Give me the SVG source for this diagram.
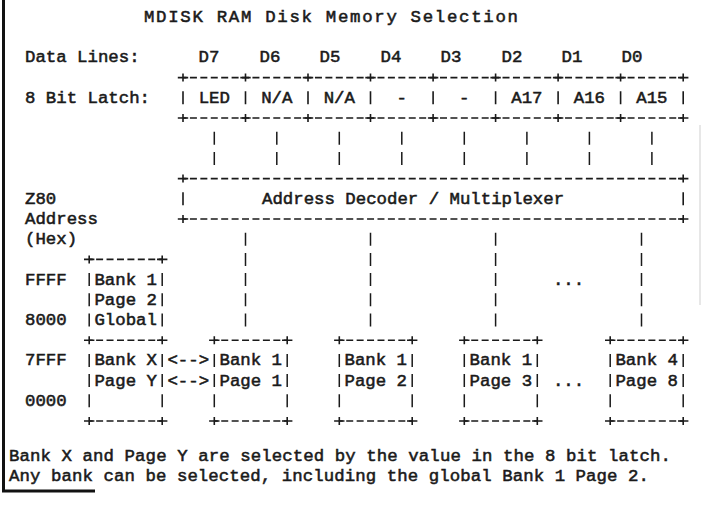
<svg xmlns="http://www.w3.org/2000/svg" width="702" height="510" viewBox="0 0 702 510">
<style>
text { font-family: "Liberation Mono", "Courier New", monospace; font-size: 17.36px; font-weight: normal; fill: #1a1a1a; stroke: #1a1a1a; stroke-width: 0.55; }
.c { text-anchor: middle; }
.h { fill: none; stroke: #1a1a1a; stroke-width: 1.6; stroke-dasharray: 7 3.42; stroke-dashoffset: 3.5; }
.p { fill: none; stroke: #1a1a1a; stroke-width: 1.6; }
.v { fill: none; stroke: #1a1a1a; stroke-width: 1.5; stroke-dasharray: 13 7.2; }
.frame { fill: none; stroke: #111; stroke-width: 3; }
</style>
<rect width="702" height="510" fill="#fff"/>
<g id="frame">
  <path class="frame" d="M3.5 0 V491 H95"/>
  <path d="M700 125 V305" fill="none" stroke="#cfcfcf" stroke-width="1"/>
</g>
<g id="title"><text x="144" y="22" textLength="374" lengthAdjust="spacing">MDISK RAM Disk Memory Selection</text></g>
<g id="labels">
  <text x="25" y="62.4">Data Lines:</text>
  <text x="25" y="102.8">8 Bit Latch:</text>
  <text x="25" y="203.8">Z80</text>
  <text x="25" y="224">Address</text>
  <text x="25" y="244.2">(Hex)</text>
  <text x="25" y="284.6">FFFF</text>
  <text x="25" y="325">8000</text>
  <text x="25" y="365.4">7FFF</text>
  <text x="25" y="405.8">0000</text>
</g>
<g id="data-lines">
  <text class="c" x="209" y="62.4">D7</text>
  <text class="c" x="270" y="62.4">D6</text>
  <text class="c" x="330" y="62.4">D5</text>
  <text class="c" x="391" y="62.4">D4</text>
  <text class="c" x="451" y="62.4">D3</text>
  <text class="c" x="512" y="62.4">D2</text>
  <text class="c" x="572" y="62.4">D1</text>
  <text class="c" x="632" y="62.4">D0</text>
</g>
<g id="latch">
  <path class="h" d="M183 77.6 H683.2 M183 118 H683.2"/>
  <path class="p" d="M177.8 77.6 H188.2 M183 73.6 V81.6 M240.3 77.6 H250.7 M245.5 73.6 V81.6 M302.8 77.6 H313.2 M308 73.6 V81.6 M365.3 77.6 H375.7 M370.5 73.6 V81.6 M427.9 77.6 H438.3 M433.1 73.6 V81.6 M490.4 77.6 H500.8 M495.6 73.6 V81.6 M552.9 77.6 H563.3 M558.1 73.6 V81.6 M615.4 77.6 H625.8 M620.6 73.6 V81.6 M678 77.6 H688.4 M683.2 73.6 V81.6"/>
  <path class="p" d="M177.8 118 H188.2 M183 114 V122 M240.3 118 H250.7 M245.5 114 V122 M302.8 118 H313.2 M308 114 V122 M365.3 118 H375.7 M370.5 114 V122 M427.9 118 H438.3 M433.1 114 V122 M490.4 118 H500.8 M495.6 114 V122 M552.9 118 H563.3 M558.1 114 V122 M615.4 118 H625.8 M620.6 114 V122 M678 118 H688.4 M683.2 114 V122"/>
  <path class="p" d="M183 91.3 V104.3 M245.5 91.3 V104.3 M308 91.3 V104.3 M370.5 91.3 V104.3 M433.1 91.3 V104.3 M495.6 91.3 V104.3 M558.1 91.3 V104.3 M620.6 91.3 V104.3 M683.2 91.3 V104.3"/>
  <text class="c" x="214.3" y="102.8">LED</text>
  <text class="c" x="276.8" y="102.8">N/A</text>
  <text class="c" x="339.3" y="102.8">N/A</text>
  <text class="c" x="401.8" y="102.8">-</text>
  <text class="c" x="464.3" y="102.8">-</text>
  <text class="c" x="526.9" y="102.8">A17</text>
  <text class="c" x="589.4" y="102.8">A16</text>
  <text class="c" x="651.9" y="102.8">A15</text>
</g>
<g id="decoder">
  <path class="h" d="M183 178.6 H683.2 M183 219 H683.2"/>
  <path class="p" d="M177.8 178.6 H188.2 M183 174.6 V182.6 M678 178.6 H688.4 M683.2 174.6 V182.6 M177.8 219 H188.2 M183 215 V223 M678 219 H688.4 M683.2 215 V223"/>
  <path class="p" d="M183 192.3 V205.3 M683.2 192.3 V205.3"/>
  <text x="262" y="203.8">Address Decoder / Multiplexer</text>
</g>
<g id="global-bank">
  <path class="h" d="M89.2 259.4 H162.2 M89.2 340.2 H162.2"/>
  <path class="p" d="M84 259.4 H94.4 M89.2 255.4 V263.4 M157 259.4 H167.4 M162.2 255.4 V263.4 M84 340.2 H94.4 M89.2 336.2 V344.2 M157 340.2 H167.4 M162.2 336.2 V344.2"/>
  <path class="v" d="M89.2 273.1 V326.5 M162.2 273.1 V326.5"/>
  <text x="94.4" y="284.6">Bank 1</text>
  <text x="94.4" y="304.8">Page 2</text>
  <text x="94.4" y="325">Global</text>
</g>
<g id="bank-x">
  <path class="h" d="M89.2 421 H162.2"/>
  <path class="p" d="M84 421 H94.4 M89.2 417 V425 M157 421 H167.4 M162.2 417 V425"/>
  <path class="v" d="M89.2 353.9 V407.3 M162.2 353.9 V407.3"/>
  <text x="94.4" y="365.4">Bank X</text>
  <text x="94.4" y="385.6">Page Y</text>
</g>
<g id="bank1-page1">
  <path class="h" d="M214.3 340.2 H287.2 M214.3 421 H287.2"/>
  <path class="p" d="M209.1 340.2 H219.5 M214.3 336.2 V344.2 M282 340.2 H292.4 M287.2 336.2 V344.2 M209.1 421 H219.5 M214.3 417 V425 M282 421 H292.4 M287.2 417 V425"/>
  <path class="v" d="M214.3 353.9 V407.3 M287.2 353.9 V407.3"/>
  <text x="219.5" y="365.4">Bank 1</text>
  <text x="219.5" y="385.6">Page 1</text>
</g>
<g id="bank1-page2">
  <path class="h" d="M339.3 340.2 H412.2 M339.3 421 H412.2"/>
  <path class="p" d="M334.1 340.2 H344.5 M339.3 336.2 V344.2 M407 340.2 H417.4 M412.2 336.2 V344.2 M334.1 421 H344.5 M339.3 417 V425 M407 421 H417.4 M412.2 417 V425"/>
  <path class="v" d="M339.3 353.9 V407.3 M412.2 353.9 V407.3"/>
  <text x="344.5" y="365.4">Bank 1</text>
  <text x="344.5" y="385.6">Page 2</text>
</g>
<g id="bank1-page3">
  <path class="h" d="M464.3 340.2 H537.3 M464.3 421 H537.3"/>
  <path class="p" d="M459.1 340.2 H469.5 M464.3 336.2 V344.2 M532.1 340.2 H542.5 M537.3 336.2 V344.2 M459.1 421 H469.5 M464.3 417 V425 M532.1 421 H542.5 M537.3 417 V425"/>
  <path class="v" d="M464.3 353.9 V407.3 M537.3 353.9 V407.3"/>
  <text x="469.6" y="365.4">Bank 1</text>
  <text x="469.6" y="385.6">Page 3</text>
</g>
<g id="bank4-page8">
  <path class="h" d="M610.2 340.2 H683.2 M610.2 421 H683.2"/>
  <path class="p" d="M605 340.2 H615.4 M610.2 336.2 V344.2 M678 340.2 H688.4 M683.2 336.2 V344.2 M605 421 H615.4 M610.2 417 V425 M678 421 H688.4 M683.2 417 V425"/>
  <path class="v" d="M610.2 353.9 V407.3 M683.2 353.9 V407.3"/>
  <text x="615.4" y="365.4">Bank 4</text>
  <text x="615.4" y="385.6">Page 8</text>
</g>
<g id="ellipses">
  <text x="552.9" y="284.6">...</text>
  <text x="552.9" y="385.6">...</text>
</g>
<g id="connectors">
  <path class="v" d="M214.3 131.7 V164.9 M276.8 131.7 V164.9 M339.3 131.7 V164.9 M401.8 131.7 V164.9 M464.3 131.7 V164.9 M526.9 131.7 V164.9 M589.4 131.7 V164.9 M651.9 131.7 V164.9"/>
  <path class="v" d="M245.5 232.7 V326.5 M370.5 232.7 V326.5 M495.6 232.7 V326.5 M641.5 232.7 V326.5"/>
  <text x="167.4" y="365.4">&lt;--&gt;</text>
  <text x="167.4" y="385.6">&lt;--&gt;</text>
</g>
<g id="note">
  <text x="9" y="461" textLength="662" lengthAdjust="spacing">Bank X and Page Y are selected by the value in the 8 bit latch.</text>
  <text x="9" y="481" textLength="640" lengthAdjust="spacing">Any bank can be selected, including the global Bank 1 Page 2.</text>
</g>
</svg>
